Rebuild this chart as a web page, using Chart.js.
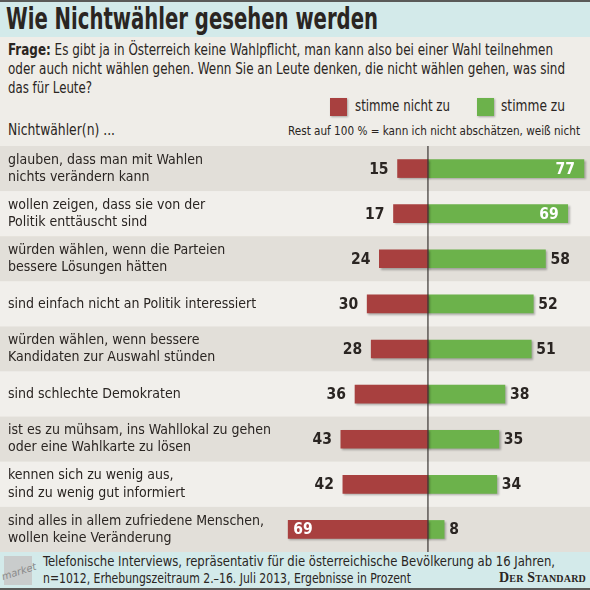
<!DOCTYPE html>
<html>
<head>
<meta charset="utf-8">
<script src="https://cdn.jsdelivr.net/npm/chart.js@4"></script>
<style>
  body { margin: 0; width: 590px; height: 590px; overflow: hidden; background: #efede8; font-family: "DejaVu Sans Condensed", "DejaVu Sans", sans-serif; color: #2a2522; }
  #wrap { position: relative; width: 590px; height: 590px; }
  .fit { position: absolute; white-space: nowrap; transform-origin: 0 0; }
  .topline { position: absolute; left: 0; top: 0; width: 590px; height: 2px; background: #5a5a58; }
  .titleband { position: absolute; left: 0; top: 2px; width: 590px; height: 35px; background: #d3eaea; }
  .title { left: 6px; top: 1px; font-size: 30px; font-weight: bold; }
  .q { left: 8px; font-size: 15.5px; line-height: 19px; }
  .sw { position: absolute; top: 98px; width: 17px; height: 18px; box-shadow: 1px 1px 2px rgba(0,0,0,0.3); }
  .leg { top: 97px; font-size: 15.5px; line-height: 19px; }
  .sub { left: 8px; top: 121px; font-size: 15.5px; line-height: 19px; }
  .rest { top: 123px; font-size: 12.5px; line-height: 16px; }
  #chartBox { position: absolute; left: 0; top: 146px; width: 590px; height: 406px; }
  .footer { position: absolute; left: 0; top: 552px; width: 590px; height: 36px; background: #d3eaea; }
  .botline { position: absolute; left: 0; top: 588px; width: 590px; height: 2px; background: #5a5a58; }
  .logo { position: absolute; left: 4px; top: 556px; width: 28px; height: 29px; background: #c9cccc; }
  .logotext { position: absolute; left: 1px; top: 566px; font-size: 10px; font-style: italic; color: #8a8a8a; transform: rotate(-18deg); font-family: "DejaVu Sans", sans-serif; }
  .foot { left: 43px; font-size: 13.5px; line-height: 17px; }
  .std { position: absolute; right: 4px; top: 570px; font-family: "Liberation Serif", serif; font-weight: bold; font-size: 14px; font-variant: small-caps; letter-spacing: 0.2px; }
</style>
</head>
<body>
<div id="wrap">
  <div class="topline"></div>
  <div class="titleband"></div>
  <div class="fit title" data-w="372">Wie Nichtwähler gesehen werden</div>
  <div class="fit q" style="top:41px" data-w="545"><b>Frage:</b> Es gibt ja in Österreich keine Wahlpflicht, man kann also bei einer Wahl teilnehmen</div>
  <div class="fit q" style="top:60px" data-w="557">oder auch nicht wählen gehen. Wenn Sie an Leute denken, die nicht wählen gehen, was sind</div>
  <div class="fit q" style="top:79px" data-w="84">das für Leute?</div>
  <div class="sw" style="left:330px;background:#a8403f"></div>
  <div class="fit leg" style="left:355px" data-w="95">stimme nicht zu</div>
  <div class="sw" style="left:477px;background:#6cb24b"></div>
  <div class="fit leg" style="left:501px" data-w="64">stimme zu</div>
  <div class="fit sub" data-w="107">Nichtwähler(n) ...</div>
  <div class="fit rest" style="left:288px" data-w="292">Rest auf 100 % = kann ich nicht abschätzen, weiß nicht</div>
  <div id="chartBox"><canvas id="chart"></canvas></div>
  <div class="footer"></div>
  <div class="botline"></div>
  <div class="logo"></div>
  <div class="logotext">market</div>
  <div class="fit foot" style="top:553px" data-w="512">Telefonische Interviews, repräsentativ für die österreichische Bevölkerung ab 16 Jahren,</div>
  <div class="fit foot" style="top:570px" data-w="368">n=1012, Erhebungszeitraum 2.–16. Juli 2013, Ergebnisse in Prozent</div>
  <div class="std">Der Standard</div>
</div>
<script>
// Wie Nichtwähler gesehen werden - diverging bars

const categories = [
    ['glauben, dass man mit Wahlen', 'nichts verändern kann'],
    ['wollen zeigen, dass sie von der', 'Politik enttäuscht sind'],
    ['würden wählen, wenn die Parteien', 'bessere Lösungen hätten'],
    'sind einfach nicht an Politik interessiert',
    ['würden wählen, wenn bessere', 'Kandidaten zur Auswahl stünden'],
    'sind schlechte Demokraten',
    ['ist es zu mühsam, ins Wahllokal zu gehen', 'oder eine Wahlkarte zu lösen'],
    ['kennen sich zu wenig aus,', 'sind zu wenig gut informiert'],
    ['sind alles in allem zufriedene Menschen,', 'wollen keine Veränderung']
];
const disagree = [15, 17, 24, 30, 28, 36, 43, 42, 69];
const agree = [77, 69, 58, 52, 51, 38, 35, 34, 8];
const seriesNames = ['stimme nicht zu', 'stimme zu'];

const RED = '#a8403f';
const GREEN = '#6cb24b';
const TEXT = '#2a2522';
const FONT = '"DejaVu Sans Condensed", "DejaVu Sans", sans-serif';

// squeeze the condensed fallback font to the widths of the original lines
document.querySelectorAll('.fit').forEach(el => {
    const target = parseFloat(el.dataset.w);
    const w = el.getBoundingClientRect().width;
    if (w > 0) el.style.transform = 'scaleX(' + (target / w) + ')';
});

// Alternating row bands behind the bars
const rowBands = {
    id: 'rowBands',
    beforeDraw(chart) {
        const { ctx, scales: { y } } = chart;
        const half = (y.getPixelForValue(1) - y.getPixelForValue(0)) / 2;
        ctx.save();
        categories.forEach((c, i) => {
            const cy = y.getPixelForValue(i);
            ctx.fillStyle = i % 2 === 0 ? '#e2dfd9' : '#f1efeb';
            ctx.fillRect(0, cy - half, chart.width, half * 2);
        });
        ctx.restore();
    }
};

// Soft shadow on the bars
const barShadow = {
    id: 'barShadow',
    beforeDatasetsDraw(chart) {
        const ctx = chart.ctx;
        ctx.save();
        ctx.shadowColor = 'rgba(0,0,0,0.28)';
        ctx.shadowBlur = 2;
        ctx.shadowOffsetX = 1.5;
        ctx.shadowOffsetY = 1.5;
    },
    afterDatasetsDraw(chart) {
        chart.ctx.restore();
    }
};

// Zero line and value labels
const valueLabels = {
    id: 'valueLabels',
    afterDatasetsDraw(chart) {
        const { ctx, chartArea, scales: { x } } = chart;
        const x0 = x.getPixelForValue(0);
        ctx.save();
        ctx.strokeStyle = '#3a3532';
        ctx.lineWidth = 1.2;
        ctx.beginPath();
        ctx.moveTo(x0, chartArea.top);
        ctx.lineTo(x0, chartArea.bottom);
        ctx.stroke();

        ctx.font = 'bold 15.5px ' + FONT;
        ctx.textBaseline = 'middle';
        const sets = [disagree, agree];
        chart.data.datasets.forEach((ds, di) => {
            const meta = chart.getDatasetMeta(di);
            meta.data.forEach((bar, i) => {
                const v = sets[di][i];
                const inside = v > 60;
                ctx.fillStyle = inside ? '#ffffff' : TEXT;
                if (di === 0) {
                    ctx.textAlign = inside ? 'left' : 'right';
                    ctx.fillText(v, inside ? bar.x + 5 : bar.x - 9, bar.y + 1);
                } else {
                    ctx.textAlign = inside ? 'right' : 'left';
                    ctx.fillText(v, inside ? bar.x - 9 : bar.x + 5, bar.y + 1);
                }
            });
        });
        ctx.restore();
    }
};

new Chart(document.getElementById('chart'), {
    type: 'bar',
    data: {
        labels: categories,
        datasets: [
            {
                label: seriesNames[0],
                data: disagree.map(v => -v),
                backgroundColor: RED,
                barThickness: 18
            },
            {
                label: seriesNames[1],
                data: agree,
                backgroundColor: GREEN,
                barThickness: 18
            }
        ]
    },
    options: {
        indexAxis: 'y',
        responsive: true,
        maintainAspectRatio: false,
        animation: false,
        layout: { padding: { left: 8, right: 0, top: 0, bottom: 0 } },
        plugins: {
            legend: { display: false },
            tooltip: { enabled: false }
        },
        scales: {
            x: {
                stacked: true,
                min: -76,
                max: 80,
                display: false
            },
            y: {
                stacked: true,
                grid: { display: false },
                border: { display: false },
                ticks: {
                    crossAlign: 'far',
                    color: TEXT,
                    padding: 0,
                    font: { family: FONT, size: 14, lineHeight: 1.22 }
                },
                afterFit(scale) {
                    scale.width = 266;
                    scale.paddingTop = 0;
                    scale.paddingBottom = 0;
                }
            }
        }
    },
    plugins: [rowBands, barShadow, valueLabels]
});
</script>
</body>
</html>
